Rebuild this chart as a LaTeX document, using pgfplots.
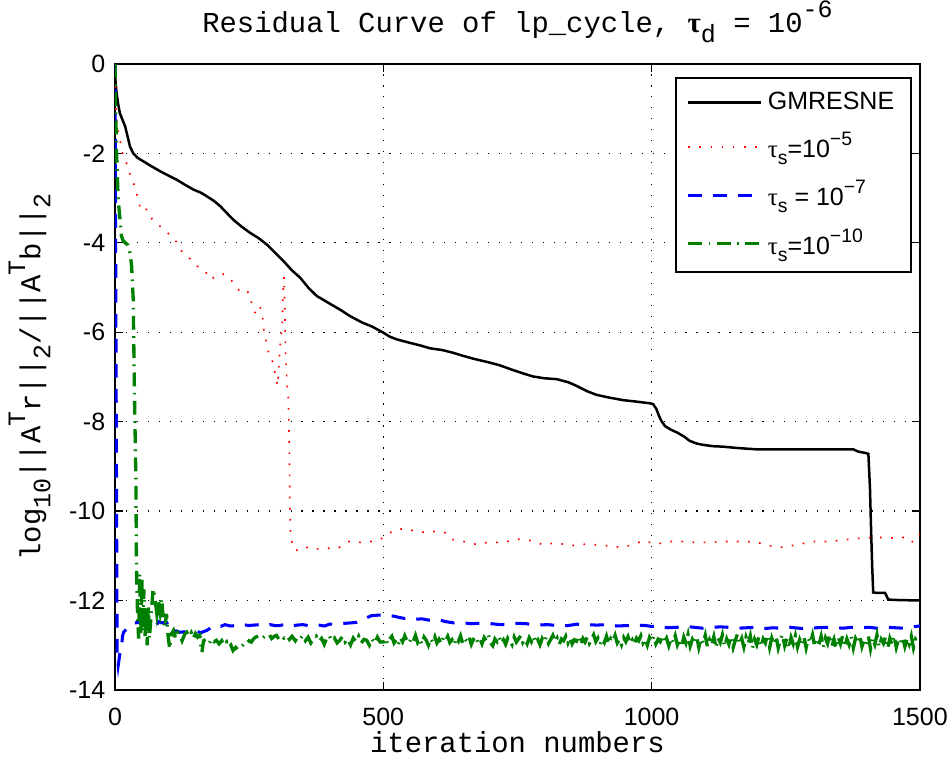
\documentclass[border=0pt]{standalone}
\usepackage{fontspec}
\setmainfont{Liberation Sans}
\newfontfamily\cour{Liberation Mono}
\newfontfamily\symf{Liberation Serif}
\usepackage{pgfplots}
\pgfplotsset{compat=1.18}
\definecolor{mgreen}{rgb}{0,0.5,0}
\newcommand{\sbs}[1]{\raisebox{-0.65ex}{\fontsize{9}{10}\selectfont#1}}
\newcommand{\sps}[1]{\raisebox{1.0ex}{\fontsize{9}{10}\selectfont#1}}
\newcommand{\lsb}[1]{\raisebox{-0.6ex}{\fontsize{7}{8}\selectfont#1}}
\newcommand{\lsp}[1]{\raisebox{0.9ex}{\fontsize{7}{8}\selectfont#1}}
\begin{document}
\begin{tikzpicture}
\begin{axis}[
  name=ax,
  scale only axis,
  width=289.8pt, height=225.4pt,
  xmin=0, xmax=1500, ymin=-14, ymax=0,
  xtick={0,500,1000,1500}, xticklabels={0,500,1000,1500},
  ytick={-14,-12,-10,-8,-6,-4,-2,0},
  yticklabels={-14,-12,-10,-8,-6,-4,-2,0},
  grid=major,
  major grid style={black, line width=0.45pt, dash pattern=on 0.45pt off 3.5pt},
  tick align=inside,
  major tick length=3pt,
  tick style={black, line width=0.45pt},
  axis line style={line width=0.5pt},
  ticklabel style={font=\fontsize{9}{11}\selectfont},
  xticklabel style={inner sep=1pt, yshift=-5.2pt},
  title={Residual Curve of lp\_cycle, {\symf\bfseries τ}\sbs{d} = 10\sps{-6}},
  title style={font=\cour\fontsize{10.4}{12}\selectfont, at={(axis description cs:0.5,1)}, anchor=base, yshift=5.2pt},
  xlabel={iteration numbers},
  xlabel style={font=\cour\fontsize{10.4}{12}\selectfont, inner sep=0pt, at={(axis description cs:0.5,0)}, anchor=base, yshift=-22.7pt},
  ylabel={log\sbs{10}||A\sps{T}r||\sbs{2}/||A\sps{T}b||\sbs{2}},
  ylabel style={font=\cour\fontsize{10.4}{12}\selectfont, at={(axis description cs:-0.106,0.5)}, anchor=center},
  legend style={at={(1,1)}, anchor=north east, xshift=-2.9pt, yshift=-4.7pt,
    font=\fontsize{9}{11}\selectfont, draw=black, line width=0.7pt,
    inner xsep=4pt, inner ysep=3pt, row sep=2.8pt},
  legend cell align=left,
  legend image code/.code={\draw[#1] plot coordinates {(0pt,0pt) (26pt,0pt)};},
]
% GMRESNE
\addplot[black, line width=0.9pt] coordinates {
(0,0) (1,-0.4) (3,-0.65) (6,-0.9) (9,-1.10) (14,-1.25) (19,-1.40) (24,-1.65) (28,-1.85)
(34,-2.0) (42,-2.1) (53,-2.18) (68,-2.29) (84,-2.40) (100,-2.50) (115,-2.59) (130,-2.70)
(146,-2.81) (160,-2.88) (171,-2.96) (184,-3.06) (196,-3.18) (208,-3.33) (220,-3.48)
(236,-3.64) (252,-3.78) (268,-3.90) (283,-4.04) (298,-4.22) (314,-4.41) (330,-4.62)
(345,-4.78) (360,-5.0) (376,-5.19) (400,-5.36) (420,-5.50) (438,-5.64) (460,-5.78)
(480,-5.88) (500,-6.01) (512,-6.10) (525,-6.16) (550,-6.24) (570,-6.30) (587,-6.36)
(610,-6.40) (630,-6.46) (649,-6.53) (670,-6.60) (695,-6.67) (717,-6.74) (740,-6.84)
(760,-6.92) (779,-6.99) (800,-7.03) (823,-7.05) (845,-7.12) (860,-7.20) (880,-7.32)
(897,-7.40) (920,-7.46) (947,-7.52) (970,-7.55) (997,-7.59) (1003,-7.61) (1009,-7.72)
(1013,-7.85) (1018,-7.98) (1025,-8.10) (1036,-8.18) (1047,-8.24) (1060,-8.33) (1071,-8.43)
(1084,-8.49) (1096,-8.52) (1115,-8.55) (1133,-8.56) (1160,-8.59) (1196,-8.62) (1250,-8.62)
(1300,-8.62) (1376,-8.62) (1385,-8.67) (1398,-8.70) (1404,-8.72) (1407,-9.5) (1409,-10.4)
(1411,-11.2) (1413,-11.82) (1420,-11.83) (1435,-11.83) (1438,-11.9) (1441,-11.98)
(1460,-11.99) (1500,-12.0)
};
\addlegendentry{GMRESNE}
% tau_s = 1e-5
\addplot[red, line width=0.6pt, dash pattern=on 0.6pt off 3.4pt] coordinates {
(0,0) (1,-0.8) (3,-1.25) (6,-1.51) (12,-1.85) (15,-2.07) (24,-2.28) (29,-2.51) (37,-2.74)
(42,-2.98) (47,-3.21) (56,-3.17) (62,-3.39) (75,-3.53) (89,-3.69) (102,-3.82) (116,-4.0)
(125,-4.20) (140,-4.36) (153,-4.52) (168,-4.63) (177,-4.82) (189,-4.75) (200,-4.69)
(213,-4.78) (225,-4.97) (231,-5.06) (242,-5.03) (253,-5.18) (255,-5.43) (262,-5.58)
(270,-5.42) (275,-5.62) (276,-5.86) (280,-6.09) (284,-6.32) (287,-6.50) (292,-6.55)
(295,-6.75) (298,-6.9) (300,-7.02) (303,-7.20) (306,-6.64) (307,-6.38) (309,-6.16)
(311,-5.94) (312,-5.68) (312.5,-5.43) (313,-5.18) (314,-4.93) (315,-4.76) (316,-5.3)
(317,-5.9) (318,-6.5) (320,-7.0) (321,-7.22) (323,-7.46) (324,-7.95) (324.5,-8.43)
(325,-8.69) (325.5,-9.2) (326,-9.92) (326.5,-10.18) (327,-10.42) (329,-10.66) (334,-10.87)
(348,-10.89) (360,-10.80) (374,-10.85) (389,-10.83) (404,-10.83) (416,-10.83) (427,-10.74)
(436,-10.68) (448,-10.68) (461,-10.71) (476,-10.68) (489,-10.65) (502,-10.59) (510,-10.51)
(521,-10.42) (536,-10.40) (559,-10.44) (578,-10.48) (601,-10.45) (617,-10.49) (627,-10.63)
(650,-10.68) (669,-10.74) (696,-10.70) (722,-10.70) (751,-10.63) (774,-10.66) (800,-10.76)
(819,-10.71) (852,-10.77) (878,-10.74) (904,-10.76) (943,-10.81) (963,-10.76) (985,-10.66)
(1008,-10.74) (1034,-10.68) (1054,-10.68) (1080,-10.70) (1112,-10.70) (1138,-10.68)
(1171,-10.68) (1197,-10.70) (1216,-10.77) (1242,-10.81) (1268,-10.76) (1301,-10.68)
(1334,-10.68) (1360,-10.64) (1386,-10.61) (1412,-10.59) (1438,-10.59) (1457,-10.61)
(1470,-10.59) (1483,-10.70) (1496,-10.63) (1500,-10.5)
};
\addlegendentry{\symf τ\lsb{\normalfont s}\normalfont=10\lsp{−5}}
% tau_s = 1e-7
\addplot[blue, line width=1.1pt, dash pattern=on 5pt off 4pt] coordinates {
(0,0) (2,-6.5) (4,-13.2) (6,-13.45) (9,-13.2) (12,-13.08) (14,-12.8) (16,-12.71) (22,-12.63)
(30,-12.55) (37,-12.5) (47,-12.49) (53,-12.52) (59,-12.45) (65,-12.5) (71,-12.49) (78,-12.54)
(81,-12.47) (88,-12.5) (96,-12.49) (102,-12.6) (106,-12.71) (114,-12.68) (121,-12.71)
(130,-12.7) (137,-12.73) (145,-12.68) (152,-12.69) (160,-12.72) (171,-12.67) (180,-12.6)
(189,-12.56) (197,-12.58) (205,-12.54) (215,-12.57) (227,-12.56) (237,-12.53) (248,-12.56)
(259,-12.55) (270,-12.54) (280,-12.57) (289,-12.54) (298,-12.56) (307,-12.56) (318,-12.53)
(328,-12.57) (340,-12.55) (350,-12.54) (360,-12.56) (370,-12.54) (380,-12.55) (390,-12.57)
(400,-12.53) (407,-12.53) (418,-12.52) (429,-12.51) (440,-12.50) (450,-12.49) (460,-12.44)
(470,-12.38) (478,-12.34) (488,-12.33) (500,-12.32) (510,-12.34) (520,-12.35) (530,-12.38)
(539,-12.40) (550,-12.39) (560,-12.42) (572,-12.41) (585,-12.44) (595,-12.42) (604,-12.43)
(615,-12.47) (631,-12.50) (645,-12.49) (663,-12.52) (680,-12.51) (702,-12.52) (718,-12.54)
(735,-12.53) (750,-12.51) (767,-12.52) (785,-12.55) (806,-12.54) (825,-12.56) (845,-12.56)
(860,-12.53) (878,-12.54) (898,-12.55) (917,-12.54) (935,-12.57) (956,-12.56) (972,-12.55)
(989,-12.56) (1000,-12.58) (1015,-12.58) (1030,-12.61) (1047,-12.60) (1063,-12.58)
(1080,-12.60) (1095,-12.62) (1112,-12.60) (1128,-12.59) (1145,-12.60) (1160,-12.62)
(1177,-12.61) (1193,-12.60) (1210,-12.63) (1225,-12.61) (1242,-12.62) (1258,-12.60)
(1275,-12.62) (1290,-12.63) (1308,-12.61) (1325,-12.60) (1340,-12.60) (1356,-12.62)
(1373,-12.60) (1390,-12.61) (1405,-12.60) (1420,-12.62) (1438,-12.60) (1455,-12.61)
(1470,-12.62) (1485,-12.59) (1500,-12.57)
};
\addlegendentry{\symf τ\lsb{\normalfont s}\normalfont{} = 10\lsp{−7}}
% tau_s = 1e-10
\addplot[mgreen, line width=1.2pt, dash pattern=on 5pt off 2.3pt on 0.6pt off 2.3pt] coordinates {
(0,0) (1,-0.8) (3,-2.0) (6,-3.04) (10,-3.56) (12,-3.85) (15,-3.95) (19,-4.0) (24,-4.05)
(28,-4.23) (31,-4.52) (34,-5.27) (36,-7.13) (39,-9.36) (40,-11.22) (42,-12.3) (44,-12.85)
(46,-11.4) (48,-12.8) (50,-11.5) (52,-12.7) (54,-11.75) (56,-12.8) (58,-12.2) (60,-13.0)
(62,-12.1) (64,-12.85) (67,-12.4) (71,-11.74) (74,-11.9) (78,-12.3) (81,-12.0) (84,-12.26)
(87,-11.96) (90,-12.4) (93,-12.6) (96,-12.3) (99,-12.8) (102,-13.08) (105,-12.75)
(109,-12.67) (113,-12.85) (117,-12.72) (121,-12.78) (125,-12.9) (130,-12.75) (134,-12.71)
(138,-12.8) (142,-12.72) (146,-12.85) (150,-12.74) (154,-12.82) (158,-12.78) (160,-13.0)
(162,-13.16) (165,-12.9) (171,-12.86) (176,-12.95) (181,-12.85) (185,-12.92) (189,-12.89)
(194,-12.97) (199,-12.9) (203,-13.0) (208,-12.93) (212,-13.05) (216,-13.0) (220,-13.12)
(225,-13.05) (229,-13.1) (233,-13.05) (238,-13.0) (241,-12.95) (245,-12.97) (250,-12.9)
(254,-12.93) (258,-12.86) (262,-12.82) (266,-12.8) (270,-12.78) (275,-12.84) (279,-12.8)
(283,-12.82) (288,-12.77) (292,-12.85) (297,-12.8) (301,-12.78) (305,-12.86) (310,-12.79)
(315,-12.84) (320,-12.78) (325,-12.87) (330,-12.8) (336,-12.9) (340,-12.82) (345,-12.86)
(350,-12.78) (355,-12.9) (360,-12.82) (365,-12.95) (370,-12.86) (375,-12.8) (380,-12.92)
(385,-12.85) (390,-12.98) (394,-12.86) (399,-12.78) (404,-12.9) (409,-12.84) (414,-12.95)
(419,-12.89) (424,-12.8) (429,-12.93) (434,-12.86) (439,-12.99) (444,-12.84) (449,-12.92)
(454,-12.8) (459,-12.95) (464,-12.87) (469,-12.89) (474,-13.0) (479,-12.86) (484,-12.96)
(489,-12.82) (494,-12.93)
(500,-12.93) (504,-12.84) (508,-12.97) (512,-12.86) (516,-12.80) (520,-12.95) (524,-12.88)
(528,-12.99) (532,-12.83) (536,-12.92) (540,-12.79) (544,-12.90) (548,-12.96) (552,-12.84)
(556,-12.91) (560,-12.78) (564,-12.94) (568,-12.86) (572,-12.98) (576,-12.82) (580,-12.89)
(584,-13.00) (588,-12.85) (592,-12.93) (596,-12.81) (600,-12.95) (604,-12.87) (608,-12.97)
(612,-12.83) (616,-12.90) (620,-12.80) (624,-12.94) (628,-12.88) (632,-12.99) (636,-12.84)
(640,-12.91) (644,-12.79) (648,-12.96) (652,-12.86) (656,-12.92) (660,-12.82) (664,-12.98)
(668,-12.87) (672,-12.80) (676,-12.93) (680,-12.85) (684,-12.97) (688,-12.83) (692,-12.90)
(696,-12.78) (700,-12.95) (704,-13.01) (708,-12.86) (712,-12.92) (716,-12.81) (720,-12.96)
(724,-12.88) (728,-12.98) (732,-12.84) (736,-12.91) (740,-12.99) (744,-12.82) (748,-12.93)
(752,-12.86) (756,-12.79) (760,-12.94) (764,-12.87) (768,-12.97) (772,-12.83) (776,-12.92)
(780,-12.80) (784,-12.95) (788,-12.88) (792,-12.99) (796,-12.85) (800,-12.93) (804,-12.81)
(808,-12.96) (812,-12.87) (816,-12.78) (820,-12.92) (824,-12.84) (828,-12.98) (832,-12.86)
(836,-12.90) (840,-12.80) (844,-12.95) (848,-12.83) (852,-12.97) (856,-12.88) (860,-12.91)
(864,-12.79) (868,-12.99) (872,-12.85) (876,-12.93) (880,-12.82) (884,-12.96) (888,-12.87)
(892,-12.77) (896,-12.92) (900,-12.84) (904,-12.98) (908,-12.86) (912,-12.94) (916,-12.80)
(920,-12.97) (924,-12.85) (928,-12.91) (932,-12.78) (936,-12.95) (940,-12.87) (944,-12.99)
(948,-12.83) (952,-12.92) (956,-12.81) (960,-12.96) (964,-12.88) (968,-12.98) (972,-12.84)
(976,-12.90) (980,-12.79) (984,-12.95) (988,-12.86) (992,-13.00) (996,-12.83) (1000,-12.93)
(1004,-12.80) (1008,-12.97) (1012,-12.87) (1016,-12.92) (1020,-12.78) (1024,-12.96)
(1028,-12.85) (1032,-13.01) (1036,-12.84) (1040,-12.94) (1044,-12.79) (1048,-12.99)
(1052,-12.86) (1056,-13.04) (1060,-12.82) (1064,-12.95) (1068,-12.76) (1072,-13.02)
(1076,-12.87) (1080,-12.97) (1084,-12.80) (1088,-13.05) (1092,-12.85) (1096,-12.96)
(1100,-12.78) (1104,-13.03) (1108,-12.88) (1112,-12.99) (1116,-12.81) (1120,-13.06)
(1124,-12.84) (1128,-12.94) (1132,-12.77) (1136,-13.02) (1140,-12.86) (1144,-12.98)
(1148,-12.80) (1152,-13.05) (1156,-12.89) (1160,-12.75) (1164,-12.97) (1168,-12.85)
(1172,-13.04) (1176,-12.82) (1180,-12.96) (1184,-12.79) (1188,-13.07) (1192,-12.87)
(1196,-12.99) (1200,-12.81) (1204,-13.03) (1208,-12.86) (1212,-12.95) (1216,-12.77)
(1220,-13.05) (1224,-12.84) (1228,-12.98) (1232,-12.80) (1236,-13.06) (1240,-12.88)
(1244,-12.76) (1248,-13.01) (1252,-12.85) (1256,-13.07) (1260,-12.83) (1264,-12.97)
(1268,-12.79) (1272,-13.04) (1276,-12.87) (1280,-12.99) (1284,-12.81) (1288,-13.06)
(1292,-12.85) (1296,-12.95) (1300,-12.77) (1304,-13.03) (1308,-12.88) (1312,-12.98)
(1316,-12.80) (1320,-13.05) (1324,-12.84) (1328,-12.96) (1332,-12.76) (1336,-13.02)
(1340,-12.87) (1344,-13.07) (1348,-12.82) (1352,-12.97) (1356,-12.79) (1360,-13.04)
(1364,-12.86) (1368,-12.99) (1372,-12.81) (1376,-13.06) (1380,-12.85) (1384,-12.95)
(1388,-12.78) (1392,-13.03) (1396,-12.88) (1400,-12.97) (1404,-12.80) (1408,-13.08)
(1412,-12.84) (1416,-12.98) (1420,-12.77) (1424,-13.04) (1428,-12.87) (1432,-12.96)
(1436,-12.81) (1440,-13.07) (1444,-12.85) (1448,-12.99) (1452,-12.79) (1456,-13.05)
(1460,-12.88) (1464,-12.95) (1468,-12.82) (1472,-13.03) (1476,-12.86) (1480,-12.98)
(1484,-12.80) (1488,-13.06) (1492,-12.87) (1496,-12.94) (1500,-12.90)
};
\addlegendentry{\symf τ\lsb{\normalfont s}\normalfont=10\lsp{−10}}
\end{axis}
\pgfresetboundingbox
\path[use as bounding box] ([shift={(-41.4pt,-25.2pt)}]ax.south west) rectangle ([shift={(11.2pt,23pt)}]ax.north east);
\end{tikzpicture}
\end{document}
